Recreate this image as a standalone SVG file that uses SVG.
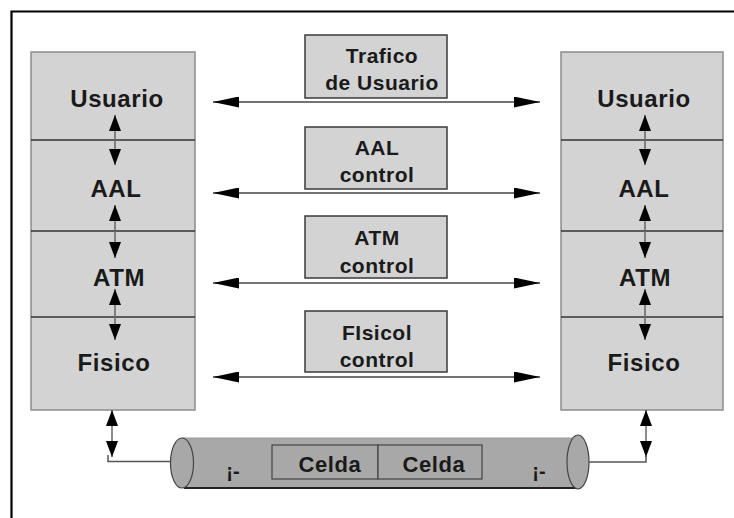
<svg xmlns="http://www.w3.org/2000/svg" width="734" height="518" viewBox="0 0 734 518">
<defs>
<marker id="ah" markerUnits="userSpaceOnUse" markerWidth="26" markerHeight="11" refX="26" refY="5.5" orient="auto-start-reverse">
<path d="M0,0 L26,5.5 L0,11 z" fill="#000"/>
</marker>
<marker id="av" markerUnits="userSpaceOnUse" markerWidth="16" markerHeight="12" refX="16" refY="6" orient="auto-start-reverse">
<path d="M0,0 L16,6 L0,12 z" fill="#000"/>
</marker>
<style>
.layer{fill:#d3d3d3;stroke:#8c8c8c;stroke-width:1.5}
.div{stroke:#333;stroke-width:1.5}
.ctl{fill:#d3d3d3;stroke:#3a3a3a;stroke-width:1.5}
.lbl{font-family:"Liberation Sans",Arial,sans-serif;font-weight:bold;fill:#1a1a1a;text-anchor:middle}
.big{font-size:24px;letter-spacing:0.6px}
.mid{font-size:21px;letter-spacing:0.5px}
.cel{font-size:22px;letter-spacing:0.6px}
.h{stroke:#444;stroke-width:1.6;fill:none}
.v{stroke:#666;stroke-width:1.5;fill:none}
.ln{stroke:#555;stroke-width:1.5;fill:none}
</style>
</defs>
<rect width="734" height="518" fill="#fff"/>
<path d="M11.5,518 V11.5 H734" fill="none" stroke="#000" stroke-width="2.2"/>

<g id="left-stack">
<rect class="layer" x="31" y="52" width="164" height="358"/>
<line class="div" x1="31" y1="140" x2="195" y2="140"/>
<line class="div" x1="31" y1="231" x2="195" y2="231"/>
<line class="div" x1="31" y1="317" x2="195" y2="317"/>
<g id="l-usuario"><text class="lbl big" x="117" y="107">Usuario</text></g>
<g id="l-aal"><text class="lbl big" x="116" y="197">AAL</text></g>
<g id="l-atm"><text class="lbl big" x="119" y="286">ATM</text></g>
<g id="l-fisico"><text class="lbl big" x="114" y="371">Fisico</text></g>
</g>

<g id="right-stack">
<rect class="layer" x="561" y="52" width="162" height="358"/>
<line class="div" x1="561" y1="140" x2="723" y2="140"/>
<line class="div" x1="561" y1="231" x2="723" y2="231"/>
<line class="div" x1="561" y1="317" x2="723" y2="317"/>
<g id="r-usuario"><text class="lbl big" x="644" y="107">Usuario</text></g>
<g id="r-aal"><text class="lbl big" x="644" y="197">AAL</text></g>
<g id="r-atm"><text class="lbl big" x="645" y="286">ATM</text></g>
<g id="r-fisico"><text class="lbl big" x="644" y="371">Fisico</text></g>
</g>

<g id="ctl-trafico">
<rect class="ctl" x="305" y="35" width="142" height="63"/>
<text class="lbl mid" x="382" y="63">Trafico</text>
<text class="lbl mid" x="382" y="90">de Usuario</text>
</g>
<g id="ctl-aal">
<rect class="ctl" x="305" y="127" width="142" height="62"/>
<text class="lbl mid" x="377" y="155">AAL</text>
<text class="lbl mid" x="377" y="182">control</text>
</g>
<g id="ctl-atm">
<rect class="ctl" x="305" y="216" width="142" height="62"/>
<text class="lbl mid" x="377" y="245">ATM</text>
<text class="lbl mid" x="377" y="273">control</text>
</g>
<g id="ctl-fisico">
<rect class="ctl" x="305" y="311" width="142" height="61"/>
<text class="lbl mid" x="377" y="340">FIsicol</text>
<text class="lbl mid" x="377" y="367">control</text>
</g>

<g id="cable">
<rect x="182" y="438" width="396" height="50" fill="#a8a8a8"/>
<line x1="184" y1="488" x2="578" y2="488" stroke="#222" stroke-width="2"/>
<line x1="182" y1="438" x2="578" y2="438" stroke="#999" stroke-width="1"/>
<ellipse cx="182" cy="463" rx="11.5" ry="25" fill="#a8a8a8" stroke="#444" stroke-width="1.2"/>
<ellipse cx="578" cy="462" rx="11" ry="27" fill="#a8a8a8" stroke="#444" stroke-width="1.2"/>
<rect x="272" y="445" width="106" height="34" fill="#a8a8a8" stroke="#444" stroke-width="1.2"/>
<rect x="378" y="445" width="104" height="34" fill="#a8a8a8" stroke="#444" stroke-width="1.2"/>
<text class="lbl cel" x="330" y="472">Celda</text>
<text class="lbl cel" x="434" y="472">Celda</text>
<text class="lbl" x="233" y="478" font-size="20">¡-</text>
<text class="lbl" x="539" y="478" font-size="20">¡-</text>
</g>

<g id="connectors">
<line class="h" x1="213" y1="102" x2="540" y2="102" marker-start="url(#ah)" marker-end="url(#ah)"/>
<line class="h" x1="213" y1="193" x2="540" y2="193" marker-start="url(#ah)" marker-end="url(#ah)"/>
<line class="h" x1="213" y1="283" x2="540" y2="283" marker-start="url(#ah)" marker-end="url(#ah)"/>
<line class="h" x1="213" y1="377" x2="540" y2="377" marker-start="url(#ah)" marker-end="url(#ah)"/>

<line class="v" x1="115" y1="115" x2="115" y2="165" marker-start="url(#av)" marker-end="url(#av)"/>
<line class="v" x1="115" y1="205" x2="115" y2="258" marker-start="url(#av)" marker-end="url(#av)"/>
<line class="v" x1="115" y1="289" x2="115" y2="340" marker-start="url(#av)" marker-end="url(#av)"/>
<line class="v" x1="645" y1="115" x2="645" y2="165" marker-start="url(#av)" marker-end="url(#av)"/>
<line class="v" x1="645" y1="205" x2="645" y2="258" marker-start="url(#av)" marker-end="url(#av)"/>
<line class="v" x1="645" y1="289" x2="645" y2="340" marker-start="url(#av)" marker-end="url(#av)"/>

<line class="v" x1="112" y1="410" x2="112" y2="457" marker-start="url(#av)" marker-end="url(#av)"/>
<path class="ln" d="M108,455 V461.5 H170"/>
<line class="v" x1="646" y1="410" x2="646" y2="457" marker-start="url(#av)" marker-end="url(#av)"/>
<path class="ln" d="M589,462 H646 V455"/>
</g>
</svg>
